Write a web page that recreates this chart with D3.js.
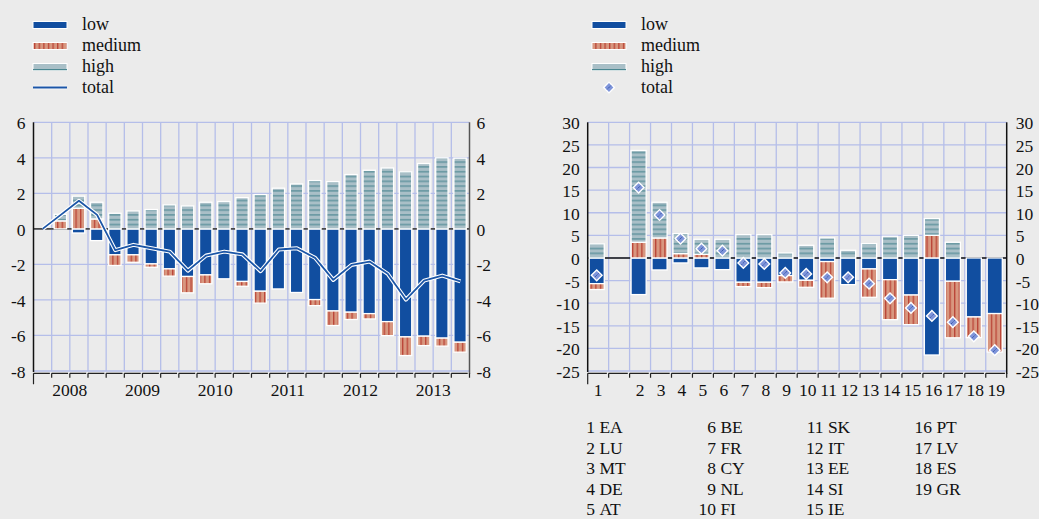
<!DOCTYPE html>
<html><head><meta charset="utf-8">
<script src="https://cdn.jsdelivr.net/npm/d3@7"></script>
<style>
html,body{margin:0;padding:0;background:#ebebeb;}
svg{display:block;font-family:"Liberation Serif","Times New Roman",serif;}
</style></head><body>
<svg id="c" width="1039" height="519"></svg>
<script>
// ---------- data: left chart (quarterly) ----------
const quarters = ["2008Q1","2008Q2","2008Q3","2008Q4","2009Q1","2009Q2","2009Q3","2009Q4",
  "2010Q1","2010Q2","2010Q3","2010Q4","2011Q1","2011Q2","2011Q3","2011Q4",
  "2012Q1","2012Q2","2012Q3","2012Q4","2013Q1","2013Q2","2013Q3","2013Q4"];
const years = ["2008","2009","2010","2011","2012","2013"];
const qLow    = [0, 0, -0.23, -0.66, -1.46, -1.46, -1.97, -2.25, -2.68, -2.59, -2.81, -2.96,
                 -3.51, -3.38, -3.58, -3.98, -4.62, -4.69, -4.77, -5.22, -6.08, -6.04, -6.15, -6.38];
const qMedium = [0, 0.45, 1.16, 0.56, -0.6, -0.42, -0.19, -0.41, -0.92, -0.5, 0, -0.27,
                 -0.67, 0, 0, -0.34, -0.82, -0.41, -0.3, -0.79, -1.05, -0.53, -0.45, -0.56];
const qHigh   = [0, 0.37, 0.68, 0.94, 0.88, 1.01, 1.09, 1.35, 1.29, 1.5, 1.54, 1.76,
                 1.93, 2.29, 2.53, 2.72, 2.66, 3.06, 3.3, 3.43, 3.21, 3.68, 4.0, 3.98];
const qTotal  = [0, 0.79, 1.58, 0.79, -1.2, -0.9, -1.09, -1.28, -2.35, -1.5, -1.28, -1.43,
                 -2.38, -1.16, -1.09, -1.63, -2.87, -2.03, -1.84, -2.53, -3.98, -2.91, -2.63, -2.96];
const leftTicks = [6, 4, 2, 0, -2, -4, -6, -8];

// ---------- data: right chart (countries) ----------
const countryNums  = ["1","2","3","4","5","6","7","8","9","10","11","12","13","14","15","16","17","18","19"];
const countryCodes = ["EA","LU","MT","DE","AT","BE","FR","CY","NL","FI","SK","IT","EE","SI","IE","PT","LV","ES","GR"];
const cLow    = [-5.68, -8.1, -2.65, -1.1, -2.2, -2.58, -5.38, -5.38, -3.9, -4.94, -0.8, -5.9, -2.43, -4.8, -8.2, -21.46, -5.16, -13.05, -12.3];
const cMedium = [-1.3, 3.47, 4.42, 0.96, 0.81, 0, -0.96, -1.18, -1.4, -1.55, -8.1, 0, -6.27, -8.85, -6.55, 5.0, -12.5, -4.57, -8.5];
const cHigh   = [3.1, 20.3, 7.9, 4.42, 3.32, 4.13, 5.16, 5.16, 1.1, 2.8, 4.42, 1.7, 3.17, 4.8, 5.0, 3.7, 3.47, 0, 0];
const cTotal  = [-3.83, 15.56, 9.5, 4.28, 2.06, 1.62, -1.1, -1.33, -3.3, -3.54, -4.28, -4.28, -5.68, -8.92, -11.06, -12.83, -14.2, -17.33, -20.4];
const rightTicks = [30, 25, 20, 15, 10, 5, 0, -5, -10, -15, -20, -25];
const legendItems = ["low", "medium", "high", "total"];

// ---------- style ----------
const C = {
  bg: "#ebebeb", low: "#114ea0", medFill: "#d8977f", medLine: "#b5352a",
  highFill: "#a9bfc7", highLine: "#4b8791", grid: "#b5bee9", line: "#1c56a7",
  diamond: "#7f95da", diamondLine: "#27479d", text: "#111"
};
const FS = 17.5;

const svg = d3.select("#c");
svg.append("rect").attr("width", 1039).attr("height", 519).attr("fill", C.bg);

const defs = svg.append("defs");
const pm = defs.append("pattern").attr("id", "pMed").attr("patternUnits", "userSpaceOnUse")
  .attr("width", 4.6).attr("height", 10);
pm.append("rect").attr("width", 4.6).attr("height", 10).attr("fill", C.medFill);
pm.append("rect").attr("x", 2).attr("width", 1.1).attr("height", 10).attr("fill", C.medLine);
const ph = defs.append("pattern").attr("id", "pHigh").attr("patternUnits", "userSpaceOnUse")
  .attr("width", 10).attr("height", 4.8);
ph.append("rect").attr("width", 10).attr("height", 4.8).attr("fill", C.highFill);
ph.append("rect").attr("y", 3.2).attr("width", 10).attr("height", 1.1).attr("fill", C.highLine);

const fills = {low: C.low, medium: "url(#pMed)", high: "url(#pHigh)"};
const keys = ["low", "medium", "high"];

function drawPanel(cfg) {
  const g = svg.append("g");
  const x = cfg.x, y = cfg.y;
  const [x0, x1] = x.range();
  const [yb, yt] = y.range();
  const bw = x.bandwidth();
  // grid
  cfg.ticks.forEach(t => g.append("line").attr("x1", x0).attr("x2", x1)
    .attr("y1", y(t)).attr("y2", y(t)).attr("stroke", C.grid).attr("stroke-width", 1.3));
  x.domain().forEach((d, i) => { if (i > 0) g.append("line").attr("x1", x(d)).attr("x2", x(d))
    .attr("y1", yt).attr("y2", yb).attr("stroke", C.grid).attr("stroke-width", 1.3); });
  // zero line
  g.append("line").attr("x1", x0).attr("x2", x1).attr("y1", y(0)).attr("y2", y(0))
    .attr("stroke", cfg.zeroColor).attr("stroke-width", 1.6);
  // stacked bars
  const stack = d3.stack().keys(keys).offset(d3.stackOffsetDiverging)(cfg.rows);
  stack.forEach(s => {
    g.append("g").selectAll("rect").data(s.filter(d => d[0] !== d[1])).join("rect")
      .attr("x", d => x(d.data.cat) + bw * cfg.barOff)
      .attr("width", bw * cfg.barW)
      .attr("y", d => y(Math.max(d[0], d[1])))
      .attr("height", d => Math.abs(y(d[0]) - y(d[1])))
      .attr("fill", fills[s.key]).attr("stroke", "#fff").attr("stroke-width", 1.3);
  });
  // axes
  g.append("line").attr("x1", x0).attr("x2", x0).attr("y1", yt).attr("y2", yb + 1)
    .attr("stroke", "#111").attr("stroke-width", 1.5);
  g.append("line").attr("x1", x1).attr("x2", x1).attr("y1", yt).attr("y2", yb + 3)
    .attr("stroke", cfg.rightAxisColor).attr("stroke-width", 1.5);
  const ax = yb + 2.3;
  let p = "";
  x.domain().forEach((d, i) => {
    const a = x(d);
    p += `M${a},${ax}H${a + bw - 1.8}M${a},${ax}V${ax + (i === 0 ? 11 : 4.5)}`;
  });
  p += `M${x1},${ax}V${ax + 4.5}`;
  g.append("path").attr("d", p).attr("fill", "none").attr("stroke", "#222").attr("stroke-width", 1.2);
  // y labels
  cfg.ticks.forEach(t => {
    g.append("text").attr("x", x0 - 8).attr("y", y(t)).attr("dy", "0.4em")
      .attr("text-anchor", "end").attr("font-size", FS).attr("fill", C.text).text(t);
    g.append("text").attr("x", x1 + cfg.rightLabelGap).attr("y", y(t)).attr("dy", "0.4em")
      .attr("text-anchor", "start").attr("font-size", FS).attr("fill", C.text).text(t);
  });
  return g;
}

function legend(lx, tx, total) {
  const g = svg.append("g");
  const ys = [25, 46, 67, 87.5];
  legendItems.forEach((k, i) => {
    const cy = ys[i];
    if (k === "low") {
      g.append("rect").attr("x", lx).attr("y", cy - 3.5).attr("width", 34).attr("height", 7)
        .attr("fill", C.low).attr("stroke", "#fff").attr("stroke-width", 1);
    } else if (k === "medium") {
      g.append("rect").attr("x", lx).attr("y", cy - 3.5).attr("width", 34).attr("height", 7)
        .attr("fill", "url(#pMed)").attr("stroke", "#fff").attr("stroke-width", 1);
    } else if (k === "high") {
      g.append("rect").attr("x", lx).attr("y", cy - 3.5).attr("width", 34).attr("height", 7)
        .attr("fill", C.highFill).attr("stroke", "#fff").attr("stroke-width", 1);
      g.append("line").attr("x1", lx).attr("x2", lx + 34).attr("y1", cy + 2.6).attr("y2", cy + 2.6)
        .attr("stroke", C.highLine).attr("stroke-width", 1.2);
    } else {
      total(g, lx, cy);
    }
    g.append("text").attr("x", tx).attr("y", cy).attr("dy", "0.3em").attr("font-size", 18)
      .attr("fill", C.text).text(k);
  });
}

function diamond(g, cx, cy) {
  const s = 7.6;
  const d = g.append("g").attr("transform", `translate(${cx},${cy}) rotate(45)`);
  d.append("rect").attr("x", -s / 2).attr("y", -s / 2).attr("width", s).attr("height", s)
    .attr("fill", C.diamond).attr("stroke", "#fff").attr("stroke-width", 1.4);
  d.append("line").attr("x1", 0).attr("x2", 0).attr("y1", -s / 2 + 1.2).attr("y2", s / 2 - 1.2)
    .attr("stroke", C.diamondLine).attr("stroke-width", 0.9).attr("stroke-dasharray", "1.2,0.8");
}

// ---------- left chart ----------
const xL = d3.scaleBand().domain(quarters).range([33.5, 469.5]).padding(0);
const yL = d3.scaleLinear().domain([-8, 6]).range([371, 122.3]);
const rowsL = quarters.map((q, i) => ({cat: q, low: qLow[i], medium: qMedium[i], high: qHigh[i]}));
const gL = drawPanel({x: xL, y: yL, ticks: leftTicks, rows: rowsL, barOff: 0.14, barW: 0.68,
  zeroColor: "#4a4a4a", rightAxisColor: "#555", rightLabelGap: 7});
const lineGen = d3.line().x((d, i) => xL(quarters[i]) + xL.bandwidth() / 2).y(d => yL(d));
gL.append("path").attr("d", lineGen(qTotal)).attr("fill", "none").attr("stroke", "#fff")
  .attr("stroke-width", 4).attr("stroke-linejoin", "round");
gL.append("path").attr("d", lineGen(qTotal)).attr("fill", "none").attr("stroke", C.line)
  .attr("stroke-width", 1.8).attr("stroke-linejoin", "round");
years.forEach(yr => {
  const qs = quarters.filter(q => q.startsWith(yr));
  const cx = (xL(qs[0]) + xL(qs[qs.length - 1]) + xL.bandwidth()) / 2;
  gL.append("text").attr("x", cx).attr("y", 396).attr("text-anchor", "middle")
    .attr("font-size", FS).attr("fill", C.text).text(yr);
});
legend(33, 82, (g, lx, cy) => {
  g.append("line").attr("x1", lx).attr("x2", lx + 34).attr("y1", cy).attr("y2", cy)
    .attr("stroke", "#fff").attr("stroke-width", 3.5);
  g.append("line").attr("x1", lx).attr("x2", lx + 34).attr("y1", cy).attr("y2", cy)
    .attr("stroke", C.line).attr("stroke-width", 2);
});

// ---------- right chart ----------
const slots = [countryNums[0], "gap", ...countryNums.slice(1)];
const xR = d3.scaleBand().domain(slots).range([587.7, 1006.7]).padding(0);
const yR = d3.scaleLinear().domain([-25, 30]).range([371, 122.3]);
const rowsR = countryNums.map((n, i) => ({cat: n, low: cLow[i], medium: cMedium[i], high: cHigh[i]}));
const gR = drawPanel({x: xR, y: yR, ticks: rightTicks, rows: rowsR, barOff: 0.07, barW: 0.72,
  zeroColor: "#111", rightAxisColor: "#111", rightLabelGap: 9});
countryNums.forEach((n, i) => {
  diamond(gR, xR(n) + xR.bandwidth() * 0.43, yR(cTotal[i]));
  gR.append("text").attr("x", xR(n) + xR.bandwidth() / 2).attr("y", 396).attr("text-anchor", "middle")
    .attr("font-size", FS).attr("fill", C.text).text(n);
});
legend(592, 641, (g, lx, cy) => diamond(g, lx + 17, cy));

// country key table
const colRight = [595, 716, 823.5, 932];
countryNums.forEach((n, i) => {
  const col = Math.floor(i / 5), row = i % 5;
  const ty = 433 + row * 20.5;
  svg.append("text").attr("x", colRight[col]).attr("y", ty).attr("text-anchor", "end")
    .attr("font-size", FS).attr("fill", C.text).text(n);
  svg.append("text").attr("x", colRight[col] + 4.4).attr("y", ty).attr("text-anchor", "start")
    .attr("font-size", FS).attr("fill", C.text).text(countryCodes[i]);
});
</script>
</body></html>
